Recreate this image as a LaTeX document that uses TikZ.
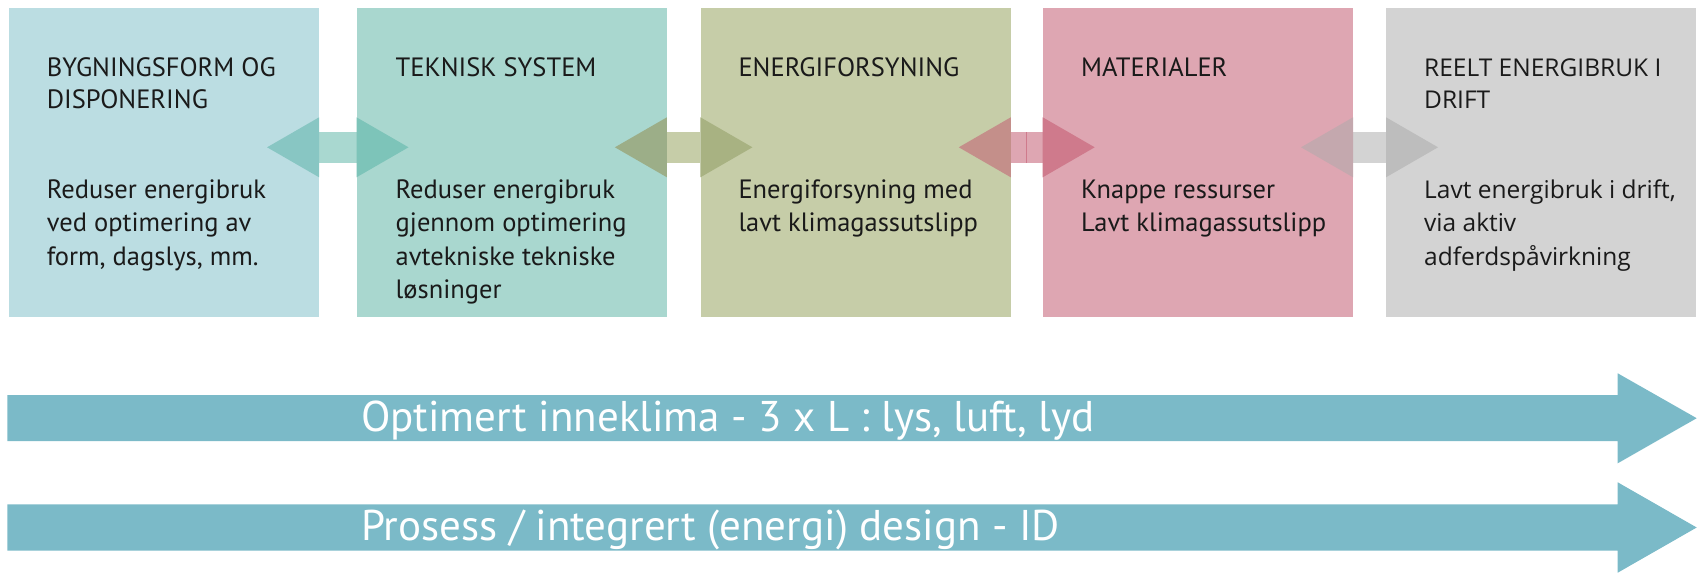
\documentclass[tikz,border=0pt]{standalone}
\usepackage{fontspec}
\setmainfont{PT Sans}
\newfontfamily\widefont{Open Sans}
\usetikzlibrary{calc}

\definecolor{boxA}{HTML}{BBDDE2}
\definecolor{boxB}{HTML}{A9D7CF}
\definecolor{boxC}{HTML}{C6CDA8}
\definecolor{boxD}{HTML}{DEA6B2}
\definecolor{boxE}{HTML}{D3D3D3}
\definecolor{headAl}{HTML}{88C6C3}
\definecolor{headAr}{HTML}{7DC4B9}
\definecolor{shaftA}{HTML}{A9D8D0}
\definecolor{headBl}{HTML}{9CAE88}
\definecolor{headBr}{HTML}{A8B282}
\definecolor{shaftB}{HTML}{C6CDA8}
\definecolor{headCl}{HTML}{C48F8A}
\definecolor{headCr}{HTML}{CF7A8C}
\definecolor{shaftC}{HTML}{DEA6B2}
\definecolor{headDl}{HTML}{C4A8AE}
\definecolor{headDr}{HTML}{BDBDBD}
\definecolor{shaftD}{HTML}{D3D3D3}
\definecolor{barcol}{HTML}{7BBAC8}
\definecolor{ink}{HTML}{1A1A1A}

% two-headed link between neighbouring panels:
% #1 left panel, #2 right panel, #3 left head, #4 shaft, #5 right head
\newcommand\duallink[5]{%
  \fill[#4] ($(#1.east)+(0,-30)$) rectangle ($(#2.west)+(0,1)$);
  \fill[#3] ($(#1.east)+(0,-45)$) -- ($(#1.east)+(-52,-15)$) -- ($(#1.east)+(0,15)$) -- cycle;
  \fill[#5] ($(#2.west)+(0,-45)$) -- ($(#2.west)+(52,-15)$) -- ($(#2.west)+(0,15)$) -- cycle;
}

\begin{document}
\begin{tikzpicture}[x=1pt,y=-1pt,
  panel/.style={fill=#1, draw=none, anchor=north west, inner sep=0pt,
    minimum width=310pt, minimum height=309pt},
  % multi-line texts are placed by the baseline of their last line
  head/.style={anchor=base west, align=left, inner sep=0pt, text=ink,
    font=\fontsize{26.5}{32}\selectfont},
  body/.style={anchor=base west, align=left, inner sep=0pt, text=ink,
    font=\fontsize{26.5}{33.4}\selectfont},
  widehead/.style={head, font=\widefont\fontsize{24.5}{32}\selectfont},
  widebody/.style={body, font=\widefont\fontsize{24.5}{33.4}\selectfont},
  bartext/.style={anchor=base west, inner sep=0pt, text=white,
    font=\fontsize{43}{45}\selectfont}]
\useasboundingbox (0,0) rectangle (1700,577);

% panels
\node[panel=boxA] (p1) at (8.7,7.6) {};
\node[panel=boxB] (p2) at (356.5,7.6) {};
\node[panel=boxC] (p3) at (700.4,7.6) {};
\node[panel=boxD] (p4) at (1042.7,7.6) {};
\node[panel=boxE] (p5) at (1386,7.6) {};

% links between panels
\duallink{p1}{p2}{headAl}{shaftA}{headAr}
\duallink{p2}{p3}{headBl}{shaftB}{headBr}
\duallink{p3}{p4}{headCl}{shaftC}{headCr}
\draw[headCr, line width=0.8pt] ($(p3.east)!0.5!(p4.west)+(0,-30)$) -- ($(p3.east)!0.5!(p4.west)+(0,1)$);
\duallink{p4}{p5}{headDl}{shaftD}{headDr}

% panel texts
\node[head] (h1) at (46.6,108.7) {BYGNINGSFORM OG\\DISPONERING};
\node[body] (d1) at (46.6,265.1) {Reduser energibruk\\ved optimering av\\form, dagslys, mm.};
\node[head] (h2) at (395.5,76.7) {TEKNISK SYSTEM};
\node[body] (d2) at (395.5,298.5) {Reduser energibruk\\gjennom optimering\\avtekniske tekniske\\løsninger};
\node[head] (h3) at (738.3,76.7) {ENERGIFORSYNING};
\node[body] (d3) at (738.3,231.7) {Energiforsyning med\\lavt klimagassutslipp};
\node[head] (h4) at (1081,76.7) {MATERIALER};
\node[body] (d4) at (1081,231.7) {Knappe ressurser\\Lavt klimagassutslipp};
\node[widehead] (h5) at (1424,108.7) {REELT ENERGIBRUK I\\DRIFT};
\node[widebody] (d5) at (1424,265.1) {Lavt energibruk i drift,\\via aktiv\\adferdspåvirkning};

% long arrows
\fill[barcol] (7.3,395) -- (1617.7,395) -- (1617.7,373.3) -- (1696.7,418.2)
  -- (1617.7,463.3) -- (1617.7,441) -- (7.3,441) -- cycle;
\fill[barcol] (7.3,504.3) -- (1617.7,504.3) -- (1617.7,482.3) -- (1696.7,527.5)
  -- (1617.7,572.7) -- (1617.7,550.7) -- (7.3,550.7) -- cycle;
\node[bartext] (l1) at (361,431) {Optimert inneklima - 3 x L : lys, luft, lyd};
\node[bartext] (l2) at (361,540.5) {Prosess / integrert (energi) design - ID};
\end{tikzpicture}
\end{document}
